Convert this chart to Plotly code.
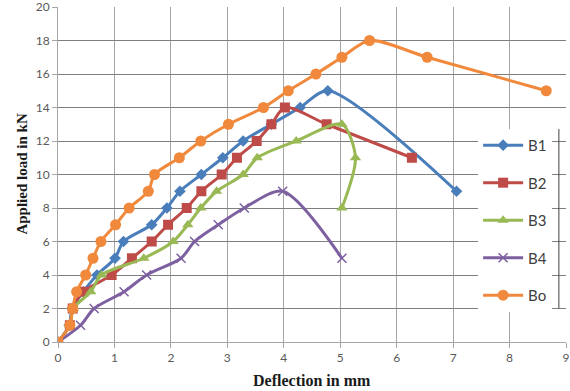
import plotly.graph_objects as go

# Deflection (mm) and applied load (kN) for each beam
b1_x = [0, 0.2, 0.25, 0.45, 0.69, 1.01, 1.16, 1.66, 1.93, 2.16, 2.54, 2.92, 3.28, 3.78, 4.29, 4.78, 7.06]
b1_y = [0, 1, 2, 3, 4, 5, 6, 7, 8, 9, 10, 11, 12, 13, 14, 15, 9]

b2_x = [0, 0.21, 0.26, 0.45, 0.95, 1.31, 1.66, 1.95, 2.28, 2.54, 2.9, 3.17, 3.52, 3.78, 4.02, 4.76, 6.27]
b2_y = [0, 1, 2, 3, 4, 5, 6, 7, 8, 9, 10, 11, 12, 13, 14, 13, 11]

b3_x = [0, 0.21, 0.27, 0.58, 0.77, 1.52, 2.04, 2.3, 2.53, 2.81, 3.28, 3.53, 4.22, 5.03, 5.27, 5.03]
b3_y = [0, 1, 2, 3, 4, 5, 6, 7, 8, 9, 10, 11, 12, 13, 11, 8]

b4_x = [0, 0.4, 0.64, 1.17, 1.57, 2.18, 2.42, 2.84, 3.3, 3.98, 5.03]
b4_y = [0, 1, 2, 3, 4, 5, 6, 7, 8, 9, 5]

bo_x = [0, 0.21, 0.26, 0.33, 0.49, 0.62, 0.76, 1.02, 1.26, 1.6, 1.71, 2.15, 2.53, 3.02, 3.64, 4.08, 4.57, 5.03, 5.52, 6.54, 8.65]
bo_y = [0, 1, 2, 3, 4, 5, 6, 7, 8, 9, 10, 11, 12, 13, 14, 15, 16, 17, 18, 17, 15]

x_ticks = [0, 1, 2, 3, 4, 5, 6, 7, 8, 9]
y_ticks = [0, 2, 4, 6, 8, 10, 12, 14, 16, 18, 20]

series = [
    ("B1", b1_x, b1_y, "#4a7ebb", "diamond", 9),
    ("B2", b2_x, b2_y, "#be4b48", "square", 10),
    ("B3", b3_x, b3_y, "#98b954", "triangle-up", 10),
    ("B4", b4_x, b4_y, "#7d60a0", "x-thin", 9),
    ("Bo", bo_x, bo_y, "#f0893c", "circle", 11),
]

fig = go.Figure()
for name, xs, ys, color, sym, size in series:
    marker = dict(symbol=sym, size=size, color=color)
    if sym == "x-thin":
        marker["line"] = dict(color=color, width=1.5)
    fig.add_trace(go.Scatter(
        x=xs, y=ys, name=name, mode="lines+markers",
        line=dict(color=color, width=3, shape="spline", smoothing=0.8),
        marker=marker, legendgroup=name,
    ))

fig.update_layout(
    width=570, height=391,
    margin=dict(l=58, r=4, t=7, b=49),
    paper_bgcolor="white", plot_bgcolor="white",
    font=dict(family="Lato, Open Sans, sans-serif", color="#595959", size=12),
    legend=dict(
        x=0.827, y=0.636, xanchor="left", yanchor="top",
        bgcolor="white", borderwidth=0,
        font=dict(family="Lato, Open Sans, sans-serif", size=15, color="#404040"),
        tracegroupgap=15, itemwidth=40,
    ),
    xaxis=dict(
        range=[0, 9], tickvals=x_ticks, showgrid=True, gridcolor="#a6a6a6", gridwidth=1.3,
        zeroline=False, showline=True, linecolor="#a6a6a6", linewidth=1,
        ticks="outside", ticklen=5, tickcolor="#a6a6a6", automargin=False,
        ticklabeloverflow="allow", fixedrange=True,
    ),
    yaxis=dict(
        range=[0, 20], tickvals=y_ticks, showgrid=True, gridcolor="#7f7f7f", gridwidth=1.3,
        zeroline=False, showline=True, linecolor="#a6a6a6", linewidth=1,
        ticks="outside", ticklen=5, tickcolor="#a6a6a6", automargin=False,
        ticklabeloverflow="allow", fixedrange=True,
    ),
    annotations=[
        dict(text="<b>Deflection in mm</b>", xref="paper", yref="paper", x=0.5, y=-0.085,
             xanchor="center", yanchor="top", showarrow=False,
             font=dict(family="Liberation Serif, Times New Roman, serif", size=16, color="#1a1a1a")),
        dict(text="<b>Applied load in kN</b>", xref="paper", yref="paper", x=-0.053, y=0.5,
             xanchor="right", yanchor="middle", showarrow=False, textangle=-90,
             font=dict(family="Liberation Serif, Times New Roman, serif", size=15, color="#1a1a1a")),
    ],
)

fig.add_shape(type="line", xref="paper", yref="paper", x0=0.986, x1=0.986, y0=0.1, y1=0.636,
              line=dict(color="#404040", width=1))

fig.write_html("out.html", config={"displayModeBar": False},
               post_script="document.body.style.margin='0';document.body.style.overflow='hidden';")
